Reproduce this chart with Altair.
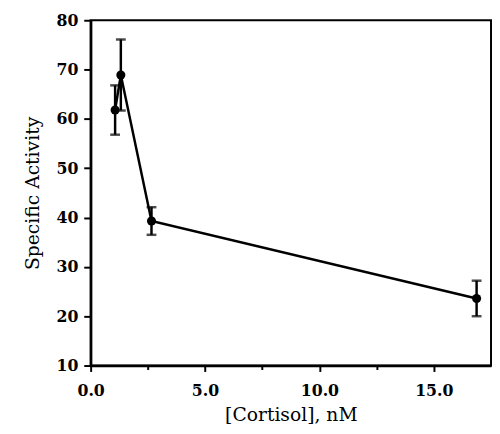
import altair as alt
import pandas as pd

conc = [1.07, 1.32, 2.66, 16.87]
activity = [61.8, 68.9, 39.3, 23.6]
err = [5.0, 7.2, 2.8, 3.6]

df = pd.DataFrame({
    "x": conc,
    "y": activity,
    "lo": [a - e for a, e in zip(activity, err)],
    "hi": [a + e for a, e in zip(activity, err)],
})

xscale = alt.Scale(domain=[0, 17.5], nice=False, zero=False)
yscale = alt.Scale(domain=[10, 80], nice=False, zero=False)

xaxis = alt.Axis(
    title="[Cortisol], nM",
    values=[0, 2.5, 5, 7.5, 10, 12.5, 15],
    format=".1f",
    labelExpr="datum.value % 5 === 0 ? format(datum.value, '.1f') : ''",
    tickSize={"condition": {"test": "datum.value % 5 === 0", "value": 6}, "value": 4},
    grid=False, labelFlush=False, labelOverlap=False,
    domainColor="black", domainWidth=2.5,
    tickColor="black", tickWidth=2,
    labelFont="DejaVu Serif", labelFontWeight="bold", labelFontSize=16,
    labelColor="black", labelPadding=11,
    titleFont="DejaVu Serif", titleFontWeight="normal", titleFontSize=19,
    titleColor="black", titlePadding=8,
)
yaxis = alt.Axis(
    title="Specific Activity",
    values=list(range(10, 81, 5)),
    labelExpr="datum.value % 10 === 0 ? format(datum.value, 'd') : ''",
    tickSize={"condition": {"test": "datum.value % 10 === 0", "value": 7}, "value": 4},
    grid=False, labelFlush=False, labelOverlap=False,
    domainColor="black", domainWidth=2.5,
    tickColor="black", tickWidth=2,
    labelFont="DejaVu Serif", labelFontWeight="bold", labelFontSize=16,
    labelColor="black", labelPadding=6,
    titleFont="DejaVu Serif", titleFontWeight="normal", titleFontSize=19,
    titleColor="black", titlePadding=14,
)

base = alt.Chart(df)

line = base.mark_line(color="black", strokeWidth=2.5).encode(
    x=alt.X("x:Q", scale=xscale, axis=xaxis),
    y=alt.Y("y:Q", scale=yscale, axis=yaxis),
    order="x:Q",
)
pts = base.mark_point(filled=True, color="black", size=85, opacity=1).encode(
    x="x:Q", y="y:Q"
)
bars = base.mark_errorbar(ticks=alt.MarkConfig(size=10, strokeWidth=2.5, color="black"), color="black", thickness=2.5).encode(
    x="x:Q", y=alt.Y("lo:Q", title="Specific Activity"), y2="hi:Q"
)

chart = alt.layer(line, bars, pts).properties(
    width=407, height=351,
    background="white",
    autosize=alt.AutoSizeParams(type="none"),
    padding={"left": 84, "top": 9, "right": 1, "bottom": 58},
).configure_view(stroke="black", strokeWidth=2)

chart.save("out.html", embed_options={"renderer": "svg", "actions": False})
